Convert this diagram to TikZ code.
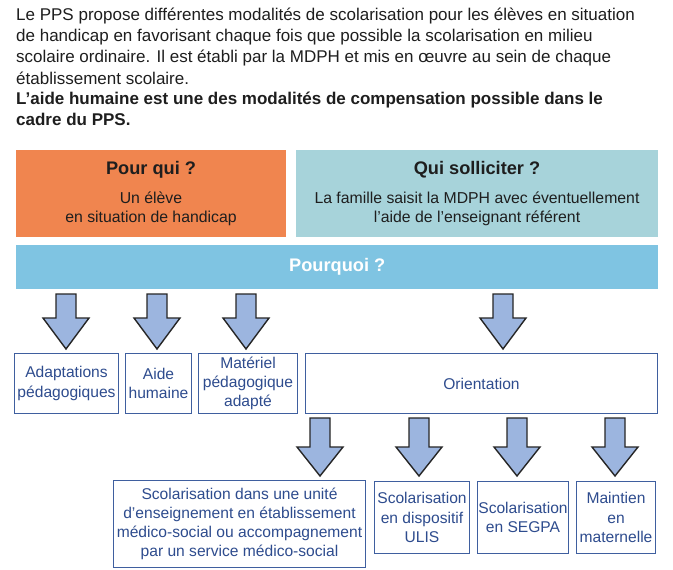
\documentclass[tikz,border=0pt]{standalone}
\usepackage{fontspec}
\setmainfont{Liberation Sans}
\definecolor{orng}{HTML}{F0854F}
\definecolor{tealbox}{HTML}{A7D3DA}
\definecolor{barblue}{HTML}{7FC4E2}
\definecolor{arrfill}{HTML}{9CB5DF}
\definecolor{bxline}{HTML}{3F5F9F}
\definecolor{bxtext}{HTML}{2E4C8E}
\definecolor{paratext}{HTML}{1E1E1E}
\newcommand\blockarr[4]{%
  \draw[arr] ({#1-10},#2) -- ({#1+10},#2) -- ({#1+10},#3) -- ({#1+23},#3)
    -- (#1,#4) -- ({#1-23},#3) -- ({#1-10},#3) -- cycle;}
\begin{document}
\begin{tikzpicture}[x=1pt,y=-1pt,
  para/.style={anchor=base west,inner sep=0,text=paratext,font=\fontsize{17}{20}\selectfont},
  parab/.style={para,font=\fontsize{17}{20}\selectfont\bfseries},
  title/.style={inner sep=0,text=paratext,font=\fontsize{18.2}{20}\selectfont\bfseries},
  body/.style={inner sep=0,text=paratext,align=center,font=\fontsize{15.8}{19}\selectfont},
  bx/.style={draw=bxline,line width=1pt,text=bxtext,inner sep=0,align=center,anchor=north west,
    font=\fontsize{15.6}{19.2}\selectfont},
  arr/.style={fill=arrfill,draw=black!85,line width=1.4pt,line join=miter}]
\useasboundingbox (0,0) rectangle (673,570);
\fill[white] (0,0) rectangle (673,570);
% paragraph
\node[para] (p1) at (16,20) {Le PPS propose différentes modalités de scolarisation pour les élèves en situation};
\node[para] (p2) at (16,41.5) {de handicap en favorisant chaque fois que possible la scolarisation en milieu};
\node[para] (p3) at (16,63) {scolaire ordinaire. Il est établi par la MDPH et mis en œuvre au sein de chaque};
\node[para] (p4) at (16,84) {établissement scolaire.};
\node[parab] (p5) at (16,104) {L’aide humaine est une des modalités de compensation possible dans le};
\node[parab] (p6) at (16,125) {cadre du PPS.};
% top boxes
\node[fill=orng,minimum width=270,minimum height=87,inner sep=0,anchor=north west] (qui) at (16,150) {};
\node[fill=tealbox,minimum width=362,minimum height=87,inner sep=0,anchor=north west] (sol) at (296,150) {};
\node[title] (quit) at (151,170) {Pour qui ?};
\node[body] (quib) at (151,208.5) {Un élève\\en situation de handicap};
\node[title] (solt) at (477,170) {Qui solliciter ?};
\node[body] (solb) at (477,208.5) {La famille saisit la MDPH avec éventuellement\\l’aide de l’enseignant référent};
\node[fill=barblue,minimum width=642,minimum height=44,inner sep=0,anchor=north west] (bar) at (16,245) {};
\node[title,text=white] (bart) at (bar.center) {Pourquoi ?};
% row 2 boxes
\node[bx,minimum width=104,minimum height=60] (a1) at (14,353) {Adaptations\\pédagogiques};
\node[bx,minimum width=66,minimum height=60] (a2) at (125,353) {Aide\\humaine};
\node[bx,minimum width=99,minimum height=60] (a3) at (198,353) {Matériel\\pédagogique\\adapté};
\node[bx,minimum width=352,minimum height=60] (ori) at (305,353) {Orientation};
% row 3 boxes
\node[bx,minimum width=252,minimum height=87] (b1) at (113,480) {Scolarisation dans une unité\\d’enseignement en établissement\\médico-social ou accompagnement\\par un service médico-social};
\node[bx,minimum width=95,minimum height=72] (b2) at (374,481) {Scolarisation\\en dispositif\\ULIS};
\node[bx,minimum width=91,minimum height=72] (b3) at (477,481) {Scolarisation\\en SEGPA};
\node[bx,minimum width=79,minimum height=72] (b4) at (576,481) {Maintien\\en\\maternelle};
% arrows
\blockarr{66}{294}{318}{349}
\blockarr{157}{294}{318}{349}
\blockarr{246}{294}{318}{349}
\blockarr{503}{294}{318}{349}
\blockarr{320}{418}{447}{476}
\blockarr{419}{418}{447}{476}
\blockarr{517}{418}{447}{476}
\blockarr{615}{418}{447}{476}
\end{tikzpicture}
\end{document}
